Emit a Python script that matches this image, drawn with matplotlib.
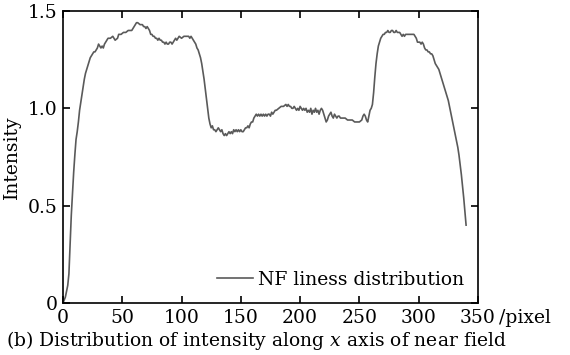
import matplotlib
matplotlib.use('Agg')
from matplotlib import pyplot as plt

# *Data: pixel position along x axis and normalised near-field intensity
pixel = [0, 2, 4, 5, 6, 7, 8, 9, 10, 11, 12, 13, 14, 15, 16, 17, 18, 19, 20,
         21, 22, 23, 24, 25, 26, 27, 28, 29, 30, 31, 32, 33, 34, 35, 36, 37, 38,
         40, 42, 43, 44, 46, 47, 49, 51, 53, 55, 57, 58, 59, 60, 61, 62, 63, 65,
         67, 68, 69, 70, 71, 72, 73, 74, 75, 76, 77, 78, 79, 80, 81, 82, 83, 84,
         85, 86, 87, 88, 89, 90, 91, 92, 93, 94, 95, 96, 97, 98, 100, 102, 104,
         106, 107, 108, 109, 110, 111, 112, 113, 114, 115, 116, 117, 118, 119,
         120, 121, 122, 123, 124, 125, 126, 127, 128, 129, 130, 131, 132, 133,
         134, 135, 136, 137, 138, 139, 140, 141, 142, 143, 144, 145, 146, 147,
         148, 149, 150, 151, 152, 153, 154, 155, 156, 157, 158, 159, 160, 161,
         162, 163, 164, 165, 166, 167, 168, 169, 170, 171, 172, 173, 174, 175,
         176, 177, 178, 179, 180, 182, 184, 186, 188, 189, 190, 191, 192, 193,
         194, 195, 196, 197, 198, 199, 200, 201, 202, 203, 204, 205, 206, 207,
         208, 209, 210, 211, 212, 213, 214, 215, 216, 217, 218, 219, 220, 221,
         222, 223, 224, 225, 226, 227, 228, 229, 230, 231, 232, 233, 234, 236,
         238, 240, 242, 244, 246, 248, 250, 252, 253, 254, 255, 256, 257, 258,
         259, 260, 261, 262, 263, 264, 265, 266, 267, 268, 269, 270, 271, 272,
         273, 274, 275, 276, 277, 278, 279, 280, 281, 282, 283, 284, 285, 286,
         287, 288, 289, 290, 292, 294, 296, 297, 298, 299, 300, 301, 302, 303,
         304, 305, 306, 307, 308, 309, 310, 311, 312, 313, 314, 315, 316, 317,
         318, 319, 320, 321, 322, 323, 324, 325, 326, 327, 328, 329, 330, 331,
         332, 333, 334, 335, 336, 337, 338, 339, 340]
intensity = [0.00, 0.03, 0.09, 0.15, 0.30, 0.45, 0.56, 0.67, 0.76, 0.84, 0.88,
             0.93, 0.99, 1.03, 1.07, 1.11, 1.15, 1.18, 1.20, 1.22, 1.24, 1.26,
             1.27, 1.28, 1.29, 1.29, 1.30, 1.31, 1.33, 1.32, 1.31, 1.32, 1.31,
             1.33, 1.34, 1.35, 1.36, 1.36, 1.37, 1.36, 1.35, 1.36, 1.38, 1.38,
             1.39, 1.39, 1.40, 1.40, 1.40, 1.41, 1.42, 1.43, 1.44, 1.44, 1.43,
             1.43, 1.42, 1.42, 1.41, 1.42, 1.41, 1.40, 1.38, 1.38, 1.37, 1.37,
             1.36, 1.36, 1.35, 1.36, 1.35, 1.35, 1.34, 1.34, 1.33, 1.34, 1.33,
             1.33, 1.34, 1.34, 1.33, 1.34, 1.35, 1.36, 1.35, 1.36, 1.37, 1.36,
             1.37, 1.37, 1.37, 1.36, 1.37, 1.36, 1.35, 1.34, 1.33, 1.31, 1.30,
             1.28, 1.26, 1.23, 1.19, 1.15, 1.10, 1.05, 1.00, 0.95, 0.92, 0.90,
             0.91, 0.89, 0.89, 0.88, 0.89, 0.90, 0.89, 0.88, 0.89, 0.87, 0.86,
             0.87, 0.86, 0.87, 0.88, 0.87, 0.88, 0.87, 0.89, 0.88, 0.89, 0.88,
             0.89, 0.88, 0.89, 0.88, 0.88, 0.89, 0.90, 0.90, 0.91, 0.90, 0.92,
             0.93, 0.93, 0.95, 0.96, 0.97, 0.96, 0.97, 0.96, 0.97, 0.96, 0.97,
             0.96, 0.97, 0.96, 0.97, 0.97, 0.96, 0.98, 0.97, 0.98, 0.99, 0.99,
             1.00, 1.01, 1.01, 1.02, 1.01, 1.02, 1.01, 1.01, 1.00, 1.00, 1.01,
             1.00, 0.99, 1.00, 0.99, 1.01, 1.00, 0.99, 1.00, 0.99, 1.00, 0.98,
             0.99, 0.98, 1.00, 0.97, 0.99, 0.98, 1.00, 0.98, 0.99, 0.97, 0.99,
             1.00, 0.99, 0.97, 0.95, 0.93, 0.94, 0.96, 0.97, 0.98, 0.96, 0.95,
             0.97, 0.96, 0.95, 0.96, 0.96, 0.95, 0.95, 0.95, 0.94, 0.94, 0.94,
             0.93, 0.93, 0.93, 0.94, 0.96, 0.97, 0.96, 0.94, 0.93, 0.96, 0.99,
             1.00, 1.02, 1.08, 1.16, 1.23, 1.28, 1.32, 1.34, 1.36, 1.37, 1.38,
             1.38, 1.39, 1.39, 1.40, 1.39, 1.39, 1.40, 1.40, 1.39, 1.39, 1.40,
             1.39, 1.39, 1.39, 1.38, 1.37, 1.38, 1.37, 1.38, 1.38, 1.38, 1.38,
             1.38, 1.37, 1.36, 1.34, 1.34, 1.34, 1.33, 1.34, 1.33, 1.31, 1.30,
             1.30, 1.29, 1.29, 1.28, 1.28, 1.27, 1.25, 1.23, 1.22, 1.21, 1.20,
             1.18, 1.16, 1.14, 1.12, 1.10, 1.08, 1.06, 1.04, 1.01, 0.98, 0.95,
             0.92, 0.89, 0.86, 0.83, 0.80, 0.76, 0.71, 0.66, 0.60, 0.54, 0.47,
             0.40]

xticks = [0, 50, 100, 150, 200, 250, 300, 350]
xtick_labels = ['0', '50', '100', '150', '200', '250', '300', '350']
yticks = [0, 0.5, 1.0, 1.5]
ytick_labels = ['0', '0.5', '1.0', '1.5']

plt.rcParams['font.family'] = ['DejaVu Serif']
plt.rcParams['mathtext.fontset'] = 'dejavuserif'

fs = 13.5

fig = plt.figure(figsize=(5.7, 3.55), dpi=100)
ax = fig.add_axes([0.1105, 0.1465, 0.728, 0.8225])

ax.plot(pixel, intensity, color='#5a5a5a', lw=1.2, label='NF liness distribution')

ax.set_xlim(0, 350)
ax.set_ylim(0, 1.5)
ax.set_xticks(xticks)
ax.set_xticklabels(xtick_labels)
ax.set_yticks(yticks)
ax.set_yticklabels(ytick_labels)
ax.tick_params(direction='in', top=True, right=True, length=5, width=1.2,
               labelsize=fs, pad=4)
for s in ax.spines.values():
    s.set_linewidth(1.2)

ax.annotate('/pixel', xy=(350, 0), xycoords='data', xytext=(15, -4),
            textcoords='offset points', ha='left', va='top', fontsize=fs)

ax.set_ylabel('Intensity', fontsize=fs, labelpad=5)

ax.legend(loc='lower right', frameon=False, fontsize=fs, handlelength=1.9,
          handletextpad=0.25, borderaxespad=0.35)

fig.text(0.45, 0.04, '(b) Distribution of intensity along $x$ axis of near field',
         ha='center', va='center', fontsize=fs)

plt.savefig('out.png', dpi=100)
